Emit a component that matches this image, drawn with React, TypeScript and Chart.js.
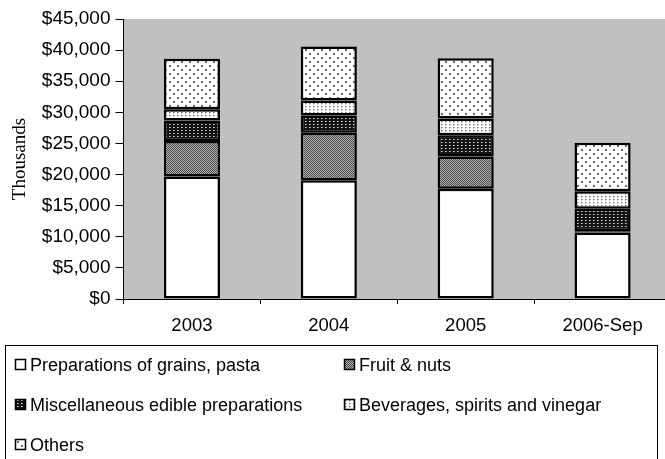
import React, { useEffect, useRef } from "react";
import { Chart, registerables } from "chart.js";
Chart.register(...registerables);

const categories = ["2003", "2004", "2005", "2006-Sep"];
const seriesNames = [
  "Preparations of grains, pasta",
  "Fruit & nuts",
  "Miscellaneous edible preparations",
  "Beverages, spirits and vinegar",
  "Others",
];
const prepValues = [19700, 19100, 17700, 10700];
const fruitValues = [5700, 7600, 5200, 200];
const miscValues = [3300, 2800, 3400, 3600];
const bevValues = [1800, 2400, 2700, 2800];
const othersValues = [8100, 8700, 9700, 7800];
const yMin = 0;
const yMax = 45000;
const yStep = 5000;
const yTitle = "Thousands";

function makePattern(w: number, h: number, bg: string, dots: [number, number, number, number, string][]) {
  const c = document.createElement("canvas");
  c.width = w;
  c.height = h;
  const g = c.getContext("2d")!;
  g.fillStyle = bg;
  g.fillRect(0, 0, w, h);
  for (const [x, y, dw, dh, col] of dots) {
    g.fillStyle = col;
    g.fillRect(x, y, dw, dh);
  }
  const ctx = document.createElement("canvas").getContext("2d")!;
  return ctx.createPattern(c, "repeat")!;
}

export default function App() {
  const ref = useRef<HTMLCanvasElement>(null);
  useEffect(() => {
    document.body.style.margin = "0";
    const fills = [
      "#ffffff",
      makePattern(2, 2, "#b0b0b0", [[0, 0, 1, 1, "#4a4a4a"], [1, 1, 1, 1, "#4a4a4a"]]),
      makePattern(4, 3, "#141414", [[1, 1, 1, 1, "#d8d8d8"], [2, 1, 1, 1, "#808080"]]),
      makePattern(4, 3, "#ffffff", [[1, 1, 1, 1, "#707070"], [2, 1, 1, 1, "#b0b0b0"], [1, 2, 1, 1, "#c0c0c0"]]),
      makePattern(8, 8, "#ffffff", [[1, 1, 2, 2, "#6a6a6a"], [5, 5, 2, 2, "#6a6a6a"]]),
    ];
    const values = [prepValues, fruitValues, miscValues, bevValues, othersValues];

    const bgPlugin = {
      id: "plotBg",
      beforeDraw(chart: any) {
        const { ctx, chartArea } = chart;
        ctx.save();
        ctx.fillStyle = "#c0c0c0";
        ctx.fillRect(chartArea.left, chartArea.top, chartArea.right - chartArea.left, chartArea.bottom - chartArea.top);
        ctx.restore();
      },
    };

    const legendPlugin = {
      id: "boxLegend",
      afterDraw(chart: any) {
        const { ctx } = chart;
        ctx.save();
        ctx.strokeStyle = "#000";
        ctx.lineWidth = 1;
        ctx.strokeRect(5.5, 345.5, 652, 130);
        const cols = [15, 344];
        const rows = [365, 405, 445];
        ctx.font = "18px 'Liberation Sans', Arial, sans-serif";
        ctx.textBaseline = "middle";
        ctx.fillStyle = "#000";
        seriesNames.forEach((name, i) => {
          const x = cols[i % 2];
          const y = rows[Math.floor(i / 2)];
          ctx.fillStyle = fills[i] as any;
          ctx.fillRect(x, y - 6, 11, 11);
          ctx.strokeStyle = "#000";
          ctx.lineWidth = 1.5;
          ctx.strokeRect(x + 0.5, y - 5.5, 10, 10);
          ctx.fillStyle = "#000";
          ctx.fillText(name, x + 15, y + 1);
        });
        ctx.restore();
      },
    };

    const chart = new Chart(ref.current!, {
      type: "bar",
      data: {
        labels: categories,
        datasets: values.map((v, i) => ({
          label: seriesNames[i],
          data: v,
          backgroundColor: fills[i] as any,
          borderColor: "#000",
          borderWidth: 2.5,
          borderSkipped: false as any,
          barPercentage: 0.41,
          categoryPercentage: 1,
        })),
      },
      options: {
        responsive: false,
        animation: false,
        layout: { padding: { left: 0, top: 19, right: 0, bottom: 120 } },
        plugins: { legend: { display: false }, tooltip: { enabled: false } },
        scales: {
          x: {
            stacked: true,
            afterFit(scale: any) {
              scale.height = 40;
            },
            grid: { drawOnChartArea: false, color: "#000", tickLength: 5, offset: true },
            border: { color: "#000", width: 1 },
            ticks: { color: "#000", padding: 11, font: { family: "'Liberation Sans', Arial", size: 18.5 } },
          },
          y: {
            stacked: true,
            min: yMin,
            max: yMax,
            afterFit(scale: any) {
              scale.width = 123.5;
            },
            grid: { drawOnChartArea: false, color: "#000", tickLength: 8 },
            border: { color: "#000", width: 1 },
            ticks: {
              stepSize: yStep,
              color: "#000",
              padding: 5,
              font: { family: "'Liberation Sans', Arial", size: 19 },
              callback: (v: any) => "$" + Number(v).toLocaleString("en-US"),
            },
            title: {
              display: true,
              text: yTitle,
              color: "#000",
              padding: { top: 9, bottom: 0 },
              font: { family: "'Liberation Serif', 'Times New Roman', serif", size: 19, weight: "normal" },
            },
          },
        },
      },
      plugins: [bgPlugin, legendPlugin],
    });
    return () => chart.destroy();
  }, []);
  return (
    <div style={{ width: 665, height: 459, overflow: "hidden", position: "relative" }}>
      <canvas ref={ref} width={671} height={459} style={{ display: "block", width: 671, height: 459 }} />
    </div>
  );
}
